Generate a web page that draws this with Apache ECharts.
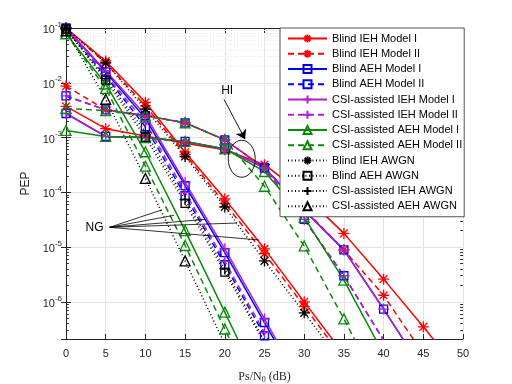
<!DOCTYPE html>
<html>
<head>
<meta charset="utf-8">
<script src="https://cdn.jsdelivr.net/npm/echarts@6/dist/echarts.min.js"></script>
<style>
html, body { margin: 0; padding: 0; background: #fff; }
#chart { width: 512px; height: 384px; }
</style>
</head>
<body>
<div id="chart"></div>
<script>
// Ps/N0 grid in dB, one point every 5 dB
const snr = [0, 5, 10, 15, 20, 25, 30, 35, 40, 45, 50];

// no-impairment curves (NG)
const blindIehM1NG = [1.0e-1, 2.5e-2, 4.4e-3, 5.4e-4, 7.6e-5, 9.3e-6, 1.0e-6, 1.1e-7];
const blindIehM2NG = [1.0e-1, 2.3e-2, 3.8e-3, 4.9e-4, 6.3e-5, 7.6e-6, 8.3e-7, 8.9e-8];
const blindAehM1NG = [1.0e-1, 1.58e-2, 2.24e-3, 1.32e-4, 7.9e-6, 4.2e-7, 2.2e-8];
const blindAehM2NG = [9.5e-2, 1.32e-2, 1.58e-3, 8.7e-5, 4.8e-6, 2.4e-7, 1.26e-8];
const csiIehM1NG = [1.0e-1, 1.66e-2, 2.57e-3, 1.51e-4, 9.3e-6, 4.9e-7, 2.5e-8];
const csiIehM2NG = [9.5e-2, 1.41e-2, 1.9e-3, 1.0e-4, 5.5e-6, 2.75e-7, 1.4e-8];
const csiAehM1NG = [7.9e-2, 9.5e-3, 5.5e-4, 2.0e-5, 6.5e-7, 2.0e-8];
const csiAehM2NG = [7.9e-2, 7.9e-3, 3.0e-4, 1.07e-5, 3.2e-7, 1.0e-8];

// hardware-impaired curves (HI)
const blindIehM1HI = [3.7e-3, 1.45e-3, 1.07e-3, 7.9e-4, 6.0e-4, 3.2e-4, 8.9e-5, 1.78e-5, 2.6e-6, 3.5e-7, 4.5e-8];
const blindIehM2HI = [8.7e-3, 3.2e-3, 2.5e-3, 1.86e-3, 9.1e-4, 2.8e-4, 5.0e-5, 8.9e-6, 1.32e-6, 1.12e-7];
const blindAehM1HI = [2.75e-3, 1.05e-3, 1.0e-3, 8.5e-4, 6.2e-4, 2.8e-4, 4.7e-5, 8.9e-6, 7.4e-7, 5.6e-8];
const blindAehM2HI = [5.75e-3, 3.2e-3, 2.5e-3, 1.86e-3, 9.1e-4, 2.8e-4, 3.2e-5, 3.0e-6, 2.0e-7, 1.26e-8];
const csiIehM1HI = [2.75e-3, 1.05e-3, 1.0e-3, 8.5e-4, 6.2e-4, 2.8e-4, 4.7e-5, 8.9e-6, 7.4e-7, 5.6e-8];
const csiIehM2HI = [5.75e-3, 3.2e-3, 2.5e-3, 1.86e-3, 9.1e-4, 2.8e-4, 3.2e-5, 3.0e-6, 2.0e-7, 1.26e-8];
const csiAehM1HI = [1.35e-3, 1.05e-3, 1.0e-3, 8.5e-4, 6.2e-4, 2.4e-4, 3.5e-5, 2.5e-6, 1.12e-7];
const csiAehM2HI = [3.4e-3, 3.1e-3, 2.5e-3, 1.86e-3, 9.1e-4, 1.29e-4, 1.05e-5, 4.9e-7, 2.0e-8];

// AWGN references
const blindIehAwgn = [1.0e-1, 2.3e-2, 3.3e-3, 4.5e-4, 5.4e-5, 5.6e-6, 6.3e-7, 7.1e-8];
const blindAehAwgn = [9.5e-2, 1.12e-2, 1.02e-3, 6.3e-5, 3.5e-6, 1.78e-7];
const csiIehAwgn = [9.5e-2, 1.2e-2, 1.26e-3, 7.4e-5, 4.0e-6, 1.9e-7];
const csiAehAwgn = [8.9e-2, 5.0e-3, 1.8e-4, 5.6e-6, 1.7e-7];

const names = [
  "Blind IEH Model I", "Blind IEH Model II",
  "Blind AEH Model I", "Blind AEH Model II",
  "CSI-assisted IEH Model I", "CSI-assisted IEH Model II",
  "CSI-assisted AEH Model I", "CSI-assisted AEH Model II",
  "Blind IEH AWGN", "Blind AEH AWGN",
  "CSI-assisted IEH AWGN", "CSI-assisted AEH AWGN"
];

const RED = "#ff0000", BLUE = "#0000ff", PURPLE = "#b020d0", GREEN = "#0a8a0a", BLACK = "#000000";
const SOLID = "solid", DASH = [6, 4], DOT = [1, 2.5];
const STAR = "path://M5,0L5,10M0,5L10,5M1.5,1.5L8.5,8.5M1.5,8.5L8.5,1.5";
const PLUS = "path://M5,0L5,10M0,5L10,5";

const YMIN = 2.1e-7, YMAX = 0.1;

function line(name, color, dash, symbol, size, vals) {
  return {
    name: name,
    type: "line",
    data: vals.map((v, i) => [snr[i], v]),
    symbol: symbol,
    symbolSize: size,
    showAllSymbol: true,
    clip: true,
    lineStyle: { color: color, width: 1.5, type: dash },
    itemStyle: { color: "none", borderColor: color, borderWidth: 1.3 },
    emphasis: { disabled: true },
    animation: false
  };
}

const series = [
  line(names[0], RED, SOLID, STAR, 11, blindIehM1NG),
  line(names[0], RED, SOLID, STAR, 11, blindIehM1HI),
  line(names[1], RED, DASH, STAR, 11, blindIehM2NG),
  line(names[1], RED, DASH, STAR, 11, blindIehM2HI),
  line(names[2], BLUE, SOLID, "rect", 8, blindAehM1NG),
  line(names[2], BLUE, SOLID, "rect", 8, blindAehM1HI),
  line(names[3], BLUE, DASH, "rect", 8, blindAehM2NG),
  line(names[3], BLUE, DASH, "rect", 8, blindAehM2HI),
  line(names[4], PURPLE, SOLID, PLUS, 11, csiIehM1NG),
  line(names[4], PURPLE, SOLID, PLUS, 11, csiIehM1HI),
  line(names[5], PURPLE, DASH, PLUS, 11, csiIehM2NG),
  line(names[5], PURPLE, DASH, PLUS, 11, csiIehM2HI),
  line(names[6], GREEN, SOLID, "triangle", 10, csiAehM1NG),
  line(names[6], GREEN, SOLID, "triangle", 10, csiAehM1HI),
  line(names[7], GREEN, DASH, "triangle", 10, csiAehM2NG),
  line(names[7], GREEN, DASH, "triangle", 10, csiAehM2HI),
  line(names[8], BLACK, DOT, STAR, 11, blindIehAwgn),
  line(names[9], BLACK, DOT, "rect", 8, blindAehAwgn),
  line(names[10], BLACK, DOT, PLUS, 11, csiIehAwgn),
  line(names[11], BLACK, DOT, "triangle", 10, csiAehAwgn)
];

// minor log grid (2..9 x 10^k), dotted lines plus short inward ticks on both sides
const minorVals = [];
for (let e = -7; e <= -2; e++) {
  for (let k = 2; k <= 9; k++) {
    const v = k * Math.pow(10, e);
    if (v > YMIN && v < YMAX) minorVals.push(v);
  }
}
const AX = "#262626";
const GRID = "#e3e3e3";
series.unshift({
  type: "line",
  data: [],
  silent: true,
  z: 1,
  markLine: {
    z: 1,
    silent: true,
    animation: false,
    symbol: "none",
    label: { show: false },
    lineStyle: { color: GRID, width: 1, type: [1, 2] },
    data: minorVals.map(v => ({ yAxis: v }))
  }
});
series.push({
  type: "line",
  data: [],
  silent: true,
  z: 3,
  markLine: {
    z: 3,
    silent: true,
    animation: false,
    symbol: "none",
    label: { show: false },
    lineStyle: { color: AX, width: 1, type: "solid" },
    data: minorVals.map(v => [{ coord: [0, v] }, { coord: [0.35, v] }])
      .concat(minorVals.map(v => [{ coord: [49.65, v] }, { coord: [50, v] }]))
  }
});

// annotation lines (NG pointers and HI arrow), in data coordinates
const ngFrom = [5.5, 2.3e-5];
const ngTo = [[12.1, 4.8e-5], [13.6, 3.8e-5], [17.5, 3.2e-5], [21.5, 2.75e-5], [24.3, 1.35e-5]];
const hiArrow = [[19.9, 5.0e-3], [22.55, 9.3e-4]];

series.push({
  type: "line",
  data: [],
  silent: true,
  markLine: {
    silent: true,
    animation: false,
    symbol: "none",
    label: { show: false },
    lineStyle: { color: "#000", width: 0.8, type: "solid" },
    data: ngTo.map(p => [{ coord: ngFrom }, { coord: p }])
  }
});
series.push({
  type: "line",
  data: [],
  silent: true,
  markLine: {
    silent: true,
    animation: false,
    symbol: ["none", "arrow"],
    symbolSize: 9,
    label: { show: false },
    lineStyle: { color: "#000", width: 0.9, type: "solid" },
    data: [[{ coord: hiArrow[0] }, { coord: hiArrow[1] }]]
  }
});

function logLabel(v) {
  const e = Math.log10(v);
  const r = Math.round(e);
  if (Math.abs(e - r) > 0.01) return "";
  return "{b|10}{e|" + r + "}";
}

const yBase = {
  type: "log",
  logBase: 10,
  min: YMIN,
  max: YMAX,
  axisLine: { show: true, lineStyle: { color: AX, width: 1 } },
  axisTick: { show: true, inside: true, length: 5, lineStyle: { color: AX } },
  minorTick: { show: false }
};

const chart = echarts.init(document.getElementById("chart"));
chart.setOption({
  animation: false,
  backgroundColor: "#fff",
  grid: { left: 66, right: 49, top: 28, bottom: 45, outerBoundsMode: "none", containLabel: false },
  legend: {
    data: names,
    orient: "vertical",
    left: 280,
    top: 28,
    itemWidth: 39,
    itemHeight: 10,
    itemGap: 2.25,
    padding: [4, 2, 4, 7],
    backgroundColor: "#fff",
    borderColor: AX,
    borderWidth: 0.8,
    borderRadius: 0,
    textStyle: { fontFamily: "Arial", fontSize: 11, color: "#000", lineHeight: 13 },
    selectedMode: false
  },
  xAxis: [{
    type: "value",
    min: 0, max: 50, interval: 5,
    name: "{a|Ps/N}{s|0}{a| (dB)}",
    nameLocation: "middle",
    nameGap: 31,
    nameTextStyle: {
      rich: {
        a: { fontFamily: "Liberation Serif", fontSize: 12, color: AX },
        s: { fontFamily: "Liberation Serif", fontSize: 8, color: AX, verticalAlign: "bottom", padding: [6, 0, 0, 0] }
      }
    },
    axisLine: { lineStyle: { color: AX, width: 1 } },
    axisTick: { inside: true, length: 5, lineStyle: { color: AX } },
    axisLabel: { fontFamily: "Arial", fontSize: 11, color: AX, margin: 9 },
    splitLine: { show: true, lineStyle: { color: GRID, width: 1 } }
  }, {
    type: "value",
    position: "top",
    min: 0, max: 50, interval: 5,
    axisLine: { show: true, lineStyle: { color: AX, width: 1 } },
    axisTick: { show: true, inside: true, length: 5, lineStyle: { color: AX } },
    axisLabel: { show: false },
    splitLine: { show: false }
  }],
  yAxis: [Object.assign({}, yBase, {
    name: "PEP",
    nameLocation: "middle",
    nameGap: 30,
    nameTextStyle: { fontFamily: "Arial", fontSize: 12, color: AX },
    axisLabel: {
      margin: 4,
      formatter: logLabel,
      rich: {
        b: { fontFamily: "Arial", fontSize: 11, color: AX, lineHeight: 15, verticalAlign: "bottom" },
        e: { fontFamily: "Arial", fontSize: 8, color: AX, lineHeight: 8, verticalAlign: "top" }
      }
    },
    splitLine: { show: true, lineStyle: { color: GRID, width: 1 } }
  }), Object.assign({}, yBase, {
    position: "right",
    axisLabel: { show: false },
    splitLine: { show: false }
  })],
  series: series
});

// HI ellipse and the two text notes, placed from data coordinates
const ell = chart.convertToPixel({ xAxisIndex: 0, yAxisIndex: 0 }, [22.13, 4.1e-4]);
const hiTxt = chart.convertToPixel({ xAxisIndex: 0, yAxisIndex: 0 }, [20.3, 7.2e-3]);
const ngTxt = chart.convertToPixel({ xAxisIndex: 0, yAxisIndex: 0 }, [3.6, 2.3e-5]);
chart.setOption({
  graphic: [
    { type: "ellipse", shape: { cx: ell[0], cy: ell[1], rx: 13.5, ry: 18.5 },
      style: { fill: "none", stroke: "#000", lineWidth: 0.9 }, z: 10 },
    { type: "text", x: hiTxt[0], y: hiTxt[1],
      style: { text: "HI", fontFamily: "Arial", fontSize: 12, fill: "#000", align: "center", verticalAlign: "middle" }, z: 10 },
    { type: "text", x: ngTxt[0], y: ngTxt[1],
      style: { text: "NG", fontFamily: "Arial", fontSize: 12, fill: "#000", align: "center", verticalAlign: "middle" }, z: 10 }
  ]
});
</script>
</body>
</html>
